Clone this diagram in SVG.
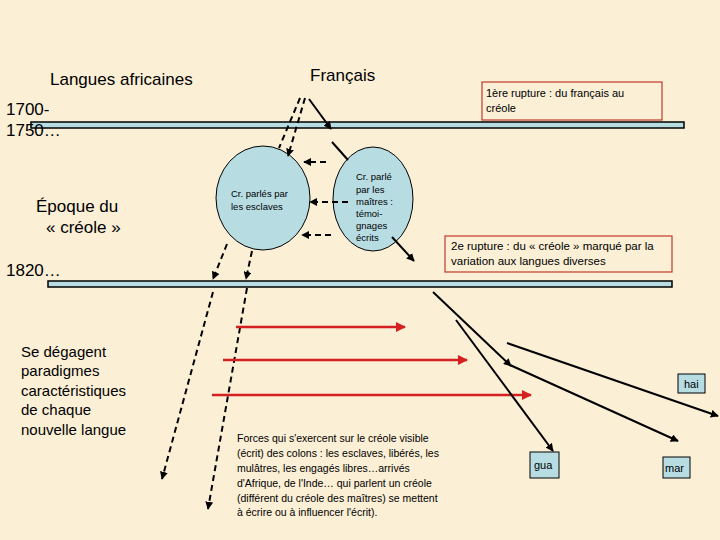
<svg xmlns="http://www.w3.org/2000/svg" width="720" height="540" viewBox="0 0 720 540">
<style>
text{font-family:"Liberation Sans",Arial,sans-serif;fill:#000}
.bar{fill:#b7dde3;stroke:#000;stroke-width:1.5}
.sol{stroke:#000;stroke-width:2;fill:none;marker-end:url(#ab)}
.dash{stroke:#000;stroke-width:2;fill:none;stroke-dasharray:6,4;marker-end:url(#ab)}
.red{stroke:#d42020;stroke-width:2.5;fill:none;marker-end:url(#ar)}
.rbox{fill:none;stroke:#c0392b;stroke-width:1.2}
.lbox{fill:#b7dde3;stroke:#000;stroke-width:1}
</style>
<defs>
<marker id="ab" viewBox="0 0 10 10" refX="9" refY="5" markerWidth="4" markerHeight="4" orient="auto"><path d="M0,0L10,5L0,10z" fill="#000"/></marker>
<marker id="ar" viewBox="0 0 10 10" refX="9" refY="5" markerWidth="4" markerHeight="4" orient="auto"><path d="M0,0L10,5L0,10z" fill="#d42020"/></marker>
</defs>
<rect width="720" height="540" fill="#fbefd6"/>
<g id="bars">
<rect class="bar" x="31" y="122" width="653" height="6"/>
<rect class="bar" x="48" y="281" width="624" height="6"/>
</g>
<g id="labels">
<text x="50" y="85" font-size="17">Langues africaines</text>
<text x="310" y="81" font-size="17">Français</text>
<text x="6" y="115" font-size="17">1700-</text>
<text x="6" y="136" font-size="17">1750…</text>
<text x="36" y="212" font-size="17">Époque du</text>
<text x="46" y="233" font-size="17">« créole »</text>
<text x="6" y="276" font-size="17">1820…</text>
<g font-size="15"><text x="21" y="357">Se dégagent</text><text x="21" y="376">paradigmes</text><text x="21" y="396">caractéristiques</text><text x="21" y="415">de chaque</text><text x="21" y="435">nouvelle langue</text></g>
</g>
<g id="rupture1"><rect class="rbox" x="482" y="82" width="180" height="38"/><text x="486" y="97" font-size="11">1ère rupture : du français au</text><text x="486" y="112" font-size="11">créole</text></g>
<g id="rupture2"><rect class="rbox" x="445" y="236" width="227" height="36"/><text x="451" y="250" font-size="11.5">2e rupture : du « créole » marqué par la</text><text x="451" y="265" font-size="11.5">variation aux langues diverses</text></g>
<g id="esclaves"><ellipse class="lbox" cx="263" cy="198" rx="47" ry="52"/><text x="231" y="197" font-size="9.5">Cr. parlés par</text><text x="231" y="210" font-size="9.5">les esclaves</text></g>
<g id="maitres"><ellipse class="lbox" cx="373" cy="199" rx="40" ry="52"/><g font-size="9.5"><text x="356" y="180">Cr. parlé</text><text x="356" y="193">par les</text><text x="356" y="205">maîtres :</text><text x="356" y="217">témoi-</text><text x="356" y="229">gnages</text><text x="356" y="241">écrits</text></g></g>
<g id="hai"><rect class="lbox" x="678" y="374" width="27" height="19"/><text x="684" y="388" font-size="11">hai</text></g>
<g id="gua"><rect class="lbox" x="530" y="452" width="29" height="26"/><text x="534" y="469" font-size="11">gua</text></g>
<g id="mar"><rect class="lbox" x="663" y="457" width="27" height="21"/><text x="665" y="472" font-size="11">mar</text></g>
<g id="forces" font-size="10.5"><text x="237" y="442">Forces qui s'exercent sur le créole visible</text><text x="237" y="457">(écrit) des colons : les esclaves, libérés, les</text><text x="237" y="472">mulâtres, les engagés libres…arrivés</text><text x="237" y="487">d'Afrique, de l'Inde… qui parlent un créole</text><text x="237" y="502">(différent du créole des maîtres) se mettent</text><text x="237" y="516">à écrire ou à influencer l'écrit).</text></g>
<g id="connectors">
<path class="dash" d="M305,98L288,156"/>
<path d="M300,98L279,148" stroke="#000" stroke-width="2" stroke-dasharray="6,4" fill="none"/>
<path class="sol" d="M309,99L331,129"/>
<path d="M332,142L348,160" stroke="#000" stroke-width="2"/>
<path class="sol" d="M392,237L414,261"/>
<path class="dash" d="M326,162L304,162"/>
<path class="dash" d="M348,202L310,202"/>
<path class="dash" d="M331,235L302,235"/>
<path class="dash" d="M227,244L213,279"/>
<path class="dash" d="M252,251L246,279"/>
<path class="dash" d="M213,292L162,479"/>
<path class="dash" d="M247,288L208,509"/>
<path class="red" d="M236,327L405,327"/>
<path class="red" d="M223,360L467,360"/>
<path class="red" d="M212,395L531,395"/>
<path class="sol" d="M433,292L511,366"/>
<path class="sol" d="M510,365L678,441"/>
<path class="sol" d="M507,343L718,416"/>
<path class="sol" d="M456,320L553,451"/>
</g>
</svg>
